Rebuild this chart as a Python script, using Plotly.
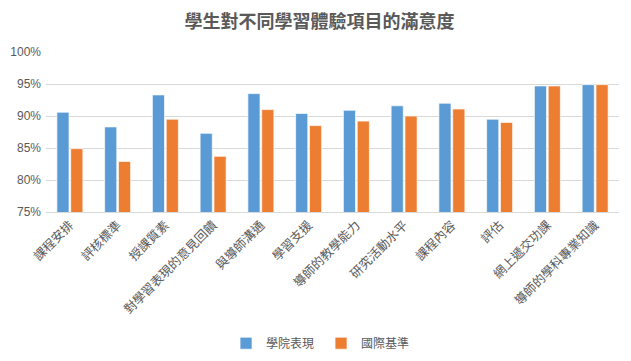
import plotly.graph_objects as go

categories = ["課程安排", "評核標準", "授課質素", "對學習表現的意見回饋", "與導師溝通", "學習支援",
              "導師的教學能力", "研究活動水平", "課程內容", "評估", "網上遞交功課", "導師的學科專業知識"]
college = [90.6, 88.3, 93.3, 87.3, 93.5, 90.4, 90.9, 91.6, 92.0, 89.5, 94.7, 94.9]
international = [84.9, 82.9, 89.5, 83.7, 91.0, 88.5, 89.2, 90.0, 91.1, 89.0, 94.7, 94.9]
series_names = ["學院表現", "國際基準"]

cjk = "Noto Sans CJK TC"
grey = "#595959"

fig = go.Figure()
fig.add_trace(go.Bar(x=categories, y=college, name=series_names[0],
                     marker=dict(color="#5B9BD5", line=dict(color="rgba(255,255,255,0.7)", width=1))))
fig.add_trace(go.Bar(x=categories, y=international, name=series_names[1],
                     marker=dict(color="#ED7D31", line=dict(color="rgba(255,255,255,0.7)", width=1))))

# page body has an 8px margin, so the figure is sized/offset to compensate
fig.update_layout(
    width=623, height=353,
    margin=dict(l=38, r=12, t=44, b=149, autoexpand=False),
    paper_bgcolor="white", plot_bgcolor="white",
    barmode="group", bargap=0.42, bargroupgap=0.12,
    title=dict(text="<b>學生對不同學習體驗項目的滿意度</b>", x=0.5, xanchor="center", y=0.96, yanchor="middle",
               font=dict(family=cjk, size=18, color=grey)),
    legend=dict(orientation="h", x=0.48, xanchor="center", y=-0.82, yanchor="middle",
                font=dict(family=cjk, size=12, color=grey), itemwidth=30, entrywidth=50,
                traceorder="normal"),
    font=dict(family=cjk, color=grey),
)
fig.update_yaxes(range=[75, 100], dtick=5, ticksuffix="%", showgrid=True, gridcolor="#D9D9D9", gridwidth=1,
                 zeroline=False, tickfont=dict(family="Liberation Sans", size=12, color=grey),
                 ticklabelstandoff=4, showline=False, automargin=False)
fig.update_xaxes(tickangle=-45, tickfont=dict(family=cjk, size=12.5, color=grey), showline=True,
                 linecolor="#D9D9D9", linewidth=1, ticks="", automargin=False)
fig.write_html("out.html")
